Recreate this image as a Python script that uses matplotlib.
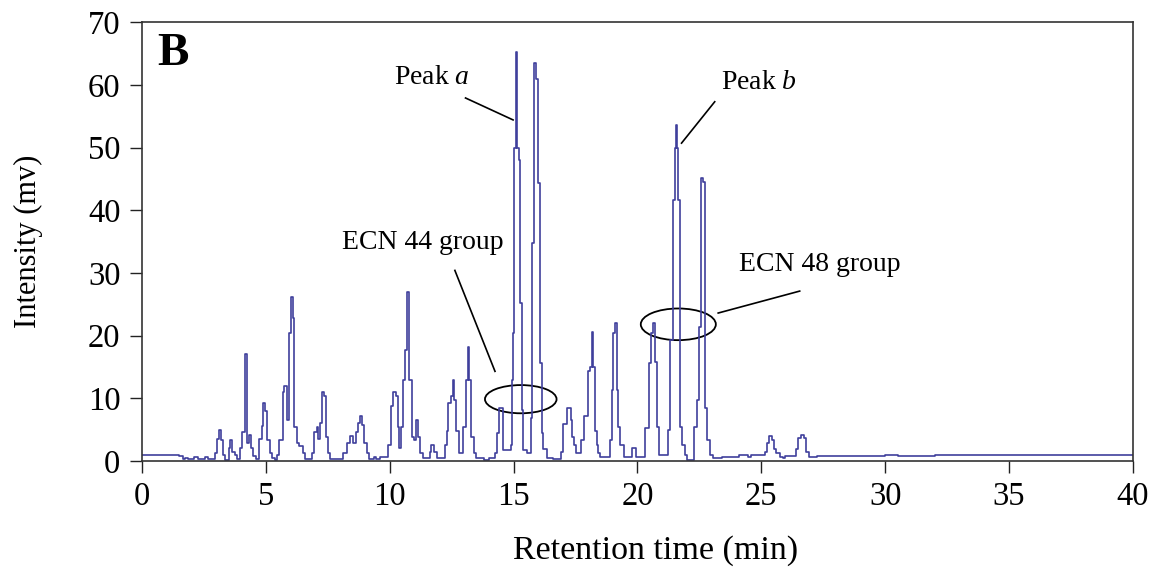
import matplotlib.pyplot as plt
from matplotlib.patches import Ellipse

plt.rcParams['font.family'] = ['Liberation Serif', 'DejaVu Serif']
plt.rcParams['mathtext.fontset'] = 'custom'
plt.rcParams['mathtext.it'] = 'Liberation Serif:italic'
plt.rcParams['mathtext.rm'] = 'Liberation Serif'

# chromatogram trace (step-like detector output)
rt_min = [
    0.00, 0.35, 0.45, 0.75, 0.85, 1.15, 1.25, 1.50, 1.65, 1.75, 1.85, 2.10, 2.25, 2.55, 2.65,
    2.95, 3.04, 3.12, 3.20, 3.28, 3.36, 3.52, 3.56, 3.64, 3.75, 3.82,
    3.95, 4.05, 4.15, 4.24, 4.30, 4.40, 4.47, 4.60,
    4.73, 4.83, 4.90, 4.98, 5.06, 5.15, 5.25, 5.35,
    5.45, 5.54, 5.68, 5.73, 5.84, 5.92, 6.00, 6.08, 6.15, 6.25, 6.35, 6.48, 6.59,
    6.85, 6.94, 7.05, 7.12, 7.20, 7.28, 7.36, 7.42, 7.50, 7.60,
    8.10, 8.26, 8.40, 8.53, 8.64, 8.73, 8.80, 8.90, 8.98, 9.07, 9.18,
    9.35, 9.45, 9.60,
    9.93, 10.07, 10.14, 10.25, 10.34, 10.38, 10.44, 10.54, 10.60, 10.70, 10.78, 10.88,
    10.98, 11.06, 11.16, 11.22, 11.33,
    11.62, 11.68, 11.80, 11.90,
    12.23, 12.30, 12.36, 12.46, 12.54, 12.60, 12.68, 12.81, 12.97, 13.08, 13.15, 13.21,
    13.28, 13.40, 13.50, 13.80, 14.00,
    14.25, 14.32, 14.42, 14.58, 14.88,
    14.92, 14.96, 15.02, 15.10, 15.14, 15.20, 15.26, 15.32, 15.40, 15.55,
    15.69, 15.76, 15.83, 15.90, 15.99, 16.06, 16.13, 16.20, 16.33, 16.60,
    16.92, 16.98, 17.17, 17.30, 17.36, 17.43, 17.50,
    17.74, 17.84, 18.00, 18.10, 18.16, 18.21, 18.28, 18.35, 18.42, 18.49,
    18.90, 18.96, 19.03, 19.10, 19.17, 19.23, 19.30, 19.44,
    19.80, 19.93,
    20.30, 20.45, 20.55, 20.62, 20.72, 20.80, 20.87,
    21.24, 21.33, 21.42, 21.50, 21.54, 21.58, 21.62, 21.70, 21.80, 21.90, 22.00,
    22.30, 22.42, 22.50, 22.56, 22.66, 22.72, 22.82, 22.92, 23.05,
    23.40, 24.10, 24.45, 24.60,
    25.14, 25.21, 25.32, 25.45, 25.52, 25.61, 25.74, 25.87, 25.94,
    26.42, 26.49, 26.60, 26.73, 26.80, 26.93, 27.23,
    30.00, 30.50, 32.00, 33.00, 34.50, 36.00, 38.00, 39.50, 40.00,
]
intensity_mv = [
    1.0, 0.9, 1.0, 0.9, 1.0, 0.9, 1.0, 0.8, 0.3, 0.5, 0.3, 0.6, 0.3, 0.6, 0.3,
    1.2, 3.5, 4.9, 3.3, 1.0, 0.2, 2.1, 3.3, 1.4, 1.0, 0.3,
    2.1, 4.7, 17.0, 2.8, 4.1, 2.0, 0.8, 0.3,
    3.5, 5.6, 9.3, 8.0, 3.3, 1.2, 0.4, 0.2,
    1.0, 3.3, 11.0, 12.0, 6.5, 20.4, 26.2, 22.8, 5.5, 2.8, 2.4, 1.2, 0.3,
    1.2, 4.7, 5.5, 3.5, 6.0, 11.0, 10.4, 3.8, 1.2, 0.3,
    1.2, 2.8, 4.0, 2.8, 4.7, 6.1, 7.2, 5.8, 2.8, 1.2, 0.3,
    0.6, 0.3, 0.7,
    2.5, 8.7, 11.0, 10.4, 5.5, 2.1, 5.5, 12.9, 17.7, 27.0, 12.9, 3.8,
    3.3, 6.5, 3.8, 1.2, 0.4,
    1.5, 2.5, 1.5, 0.4,
    2.5, 4.8, 9.2, 10.4, 12.9, 9.8, 4.8, 1.2, 5.5, 12.9, 18.2, 12.9,
    3.8, 1.2, 0.4, 0.2, 0.4,
    1.2, 4.5, 8.5, 1.8, 2.5,
    12.9, 20.4, 49.9, 65.3, 49.9, 48.0, 25.2, 8.1, 1.8, 1.2,
    6.9, 34.8, 63.4, 61.0, 44.3, 15.6, 4.5, 1.9, 0.5, 0.3,
    1.5, 5.9, 8.4, 6.5, 3.8, 2.5, 1.2,
    3.3, 7.1, 14.3, 15.0, 20.6, 15.0, 4.8, 2.5, 1.2, 0.7,
    3.3, 11.3, 20.4, 22.0, 11.3, 5.4, 2.5, 0.7,
    2.1, 0.7,
    5.3, 15.6, 20.4, 22.0, 15.8, 5.5, 1.0,
    5.0, 19.3, 41.6, 49.9, 53.6, 49.9, 41.6, 5.5, 2.5, 1.0, 0.2,
    5.5, 9.7, 21.4, 45.1, 44.5, 8.4, 3.3, 1.0, 0.4,
    0.7, 1.0, 0.6, 1.0,
    1.5, 2.9, 4.0, 3.4, 1.9, 1.2, 0.6, 0.4, 0.8,
    1.9, 3.6, 4.1, 3.6, 1.5, 0.6, 0.8,
    0.9, 0.8, 0.9, 1.0, 0.9, 1.0, 0.9, 1.0, 1.0,
]

x_ticks = [0, 5, 10, 15, 20, 25, 30, 35, 40]
y_ticks = [0, 10, 20, 30, 40, 50, 60, 70]

fig = plt.figure(figsize=(11.63, 5.79), dpi=100)
ax = fig.add_axes([0.1221, 0.2038, 0.852, 0.758])

ax.plot(rt_min, intensity_mv, drawstyle='steps-post', color='#3f3f9c', linewidth=1.2)

ax.set_xlim(0, 40)
ax.set_ylim(0, 70)
ax.set_xticks(x_ticks)
ax.set_yticks(y_ticks)
ax.tick_params(direction='out', length=8.5, width=1.0, labelsize=23.5, color='#222222')
ax.tick_params(axis='x', pad=6)
ax.tick_params(axis='y', pad=7)
for sp in ax.spines.values():
    sp.set_linewidth(1.2)
    sp.set_color('#333333')

ax.set_xlabel('Retention time (min)', fontsize=24.5, va='center')
ax.xaxis.set_label_coords(0.518, -0.205)
ax.set_ylabel('Intensity (mv)', fontsize=22, va='center')
ax.yaxis.set_label_coords(-0.115, 0.5)

ax.text(0.031, 0.927, 'B', transform=ax.transAxes, fontsize=34, fontweight='bold',
        ha='center', va='center')

# annotations
ax.text(11.72, 61.1, 'Peak $a$', fontsize=20, ha='center', va='center')
ax.plot([13.06, 14.98], [57.9, 54.4], color='black', linewidth=1.2)

ax.text(24.92, 60.3, 'Peak $b$', fontsize=20, ha='center', va='center')
ax.plot([23.12, 21.78], [57.3, 50.7], color='black', linewidth=1.2)

ax.text(11.32, 34.8, 'ECN 44 group', fontsize=20, ha='center', va='center')
ax.plot([12.63, 14.25], [30.4, 14.3], color='black', linewidth=1.2)
ax.add_patch(Ellipse((15.29, 9.86), 2.89, 4.5, fill=False, edgecolor='black', linewidth=1.3))

ax.text(27.36, 31.3, 'ECN 48 group', fontsize=20, ha='center', va='center')
ax.plot([26.55, 23.26], [27.1, 23.6], color='black', linewidth=1.2)
ax.add_patch(Ellipse((21.65, 21.8), 3.03, 5.05, fill=False, edgecolor='black', linewidth=1.3))

fig.savefig('out.png', dpi=100)
